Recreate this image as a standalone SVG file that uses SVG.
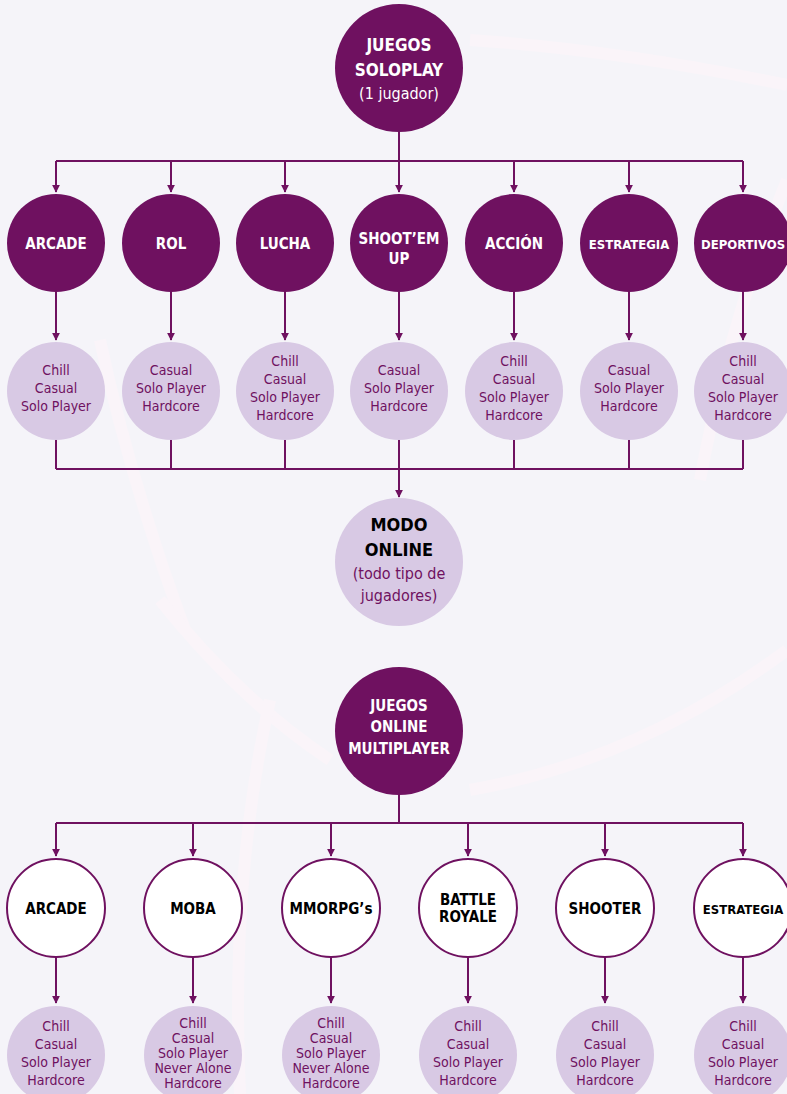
<svg xmlns="http://www.w3.org/2000/svg" width="787" height="1094" viewBox="0 0 787 1094">
<defs>
<style>
.bg{fill:#f5f4f9}
.deco{fill:none;stroke:#faf4f9;stroke-width:12}
.dark{fill:#6f1160}
.light{fill:#d8c9e4}
.outline{fill:#ffffff;stroke:#6f1160;stroke-width:2}
.ln{fill:none;stroke:#6f1160;stroke-width:2}
.arr{fill:none;stroke:#6f1160;stroke-width:2;marker-end:url(#ah)}
text{font-family:"DejaVu Sans Condensed","DejaVu Sans","Liberation Sans",sans-serif;font-stretch:condensed;text-anchor:middle}
.wb{fill:#ffffff;font-weight:bold;font-size:15px}
.ws{fill:#ffffff;font-weight:bold;font-size:13px}
.wt{fill:#ffffff;font-weight:bold;font-size:17px}
.wr{fill:#ffffff;font-size:16px}
.lt{fill:#6f1160;font-size:14px}
.bk{fill:#000000;font-weight:bold;font-size:15px}
.bks{fill:#000000;font-weight:bold;font-size:13px}
.bkl{fill:#000000;font-weight:bold;font-size:18px}
.pr{fill:#6f1160;font-size:16px}
</style>
<marker id="ah" viewBox="0 0 10 10" refX="9" refY="5" markerWidth="8" markerHeight="8" markerUnits="userSpaceOnUse" orient="auto">
<path d="M0,0 L10,5 L0,10 z" fill="#6f1160"/>
</marker>
</defs>
<rect class="bg" x="0" y="0" width="787" height="1094"/>
<g id="background-decoration">
<path class="deco" d="M470,40 Q620,50 787,85"/>
<path class="deco" d="M100,340 Q130,480 185,630"/>
<path class="deco" d="M160,600 Q240,700 330,760"/>
<path class="deco" d="M787,650 Q640,760 470,790"/>
<path class="deco" d="M270,700 Q230,880 240,1094"/>
<path class="deco" d="M787,180 Q730,320 700,480"/>
</g>
<g id="connectors">
<path class="ln" d="M399,132 V161 M56,161 H743"/>
<path class="arr" d="M56,161 V192"/>
<path class="arr" d="M171,161 V192"/>
<path class="arr" d="M285,161 V192"/>
<path class="arr" d="M399,161 V192"/>
<path class="arr" d="M514,161 V192"/>
<path class="arr" d="M629,161 V192"/>
<path class="arr" d="M743,161 V192"/>
<path class="arr" d="M56,292 V340"/>
<path class="arr" d="M171,292 V340"/>
<path class="arr" d="M285,292 V340"/>
<path class="arr" d="M399,292 V340"/>
<path class="arr" d="M514,292 V340"/>
<path class="arr" d="M629,292 V340"/>
<path class="arr" d="M743,292 V340"/>
<path class="ln" d="M56,439 V469 M171,439 V469 M285,439 V469 M399,439 V469 M514,439 V469 M629,439 V469 M743,439 V469 M56,469 H743"/>
<path class="arr" d="M399,469 V497"/>
<path class="ln" d="M399,795 V823 M56,823 H743"/>
<path class="arr" d="M56,823 V856"/>
<path class="arr" d="M193,823 V856"/>
<path class="arr" d="M331,823 V856"/>
<path class="arr" d="M468,823 V856"/>
<path class="arr" d="M605,823 V856"/>
<path class="arr" d="M743,823 V856"/>
<path class="arr" d="M56,957 V1003"/>
<path class="arr" d="M193,957 V1003"/>
<path class="arr" d="M331,957 V1003"/>
<path class="arr" d="M468,957 V1003"/>
<path class="arr" d="M605,957 V1003"/>
<path class="arr" d="M743,957 V1003"/>
</g>
<g id="juegos-soloplay">
<circle class="dark" cx="399" cy="68" r="64"/>
<text class="wt" x="399" y="51">JUEGOS</text>
<text class="wt" x="399" y="76">SOLOPLAY</text>
<text class="wr" x="399" y="99">(1 jugador)</text>
</g>
<g id="s-arcade"><circle class="dark" cx="56" cy="243" r="49"/><text class="wb" x="56" y="249">ARCADE</text></g>
<g id="s-rol"><circle class="dark" cx="171" cy="243" r="49"/><text class="wb" x="171" y="249">ROL</text></g>
<g id="s-lucha"><circle class="dark" cx="285" cy="243" r="49"/><text class="wb" x="285" y="249">LUCHA</text></g>
<g id="s-shootemup"><circle class="dark" cx="399" cy="243" r="49"/><text class="wb" x="399" y="244">SHOOT’EM</text><text class="wb" x="399" y="264">UP</text></g>
<g id="s-accion"><circle class="dark" cx="514" cy="243" r="49"/><text class="wb" x="514" y="249">ACCIÓN</text></g>
<g id="s-estrategia"><circle class="dark" cx="629" cy="243" r="49"/><text class="ws" x="629" y="249">ESTRATEGIA</text></g>
<g id="s-deportivos"><circle class="dark" cx="743" cy="243" r="49"/><text class="ws" x="743" y="249">DEPORTIVOS</text></g>
<g id="s-arcade-players"><circle class="light" cx="56" cy="391" r="49"/>
<text class="lt" x="56" y="375">Chill</text><text class="lt" x="56" y="393">Casual</text><text class="lt" x="56" y="411">Solo Player</text></g>
<g id="s-rol-players"><circle class="light" cx="171" cy="391" r="49"/>
<text class="lt" x="171" y="375">Casual</text><text class="lt" x="171" y="393">Solo Player</text><text class="lt" x="171" y="411">Hardcore</text></g>
<g id="s-lucha-players"><circle class="light" cx="285" cy="391" r="49"/>
<text class="lt" x="285" y="366">Chill</text><text class="lt" x="285" y="384">Casual</text><text class="lt" x="285" y="402">Solo Player</text><text class="lt" x="285" y="420">Hardcore</text></g>
<g id="s-shootemup-players"><circle class="light" cx="399" cy="391" r="49"/>
<text class="lt" x="399" y="375">Casual</text><text class="lt" x="399" y="393">Solo Player</text><text class="lt" x="399" y="411">Hardcore</text></g>
<g id="s-accion-players"><circle class="light" cx="514" cy="391" r="49"/>
<text class="lt" x="514" y="366">Chill</text><text class="lt" x="514" y="384">Casual</text><text class="lt" x="514" y="402">Solo Player</text><text class="lt" x="514" y="420">Hardcore</text></g>
<g id="s-estrategia-players"><circle class="light" cx="629" cy="391" r="49"/>
<text class="lt" x="629" y="375">Casual</text><text class="lt" x="629" y="393">Solo Player</text><text class="lt" x="629" y="411">Hardcore</text></g>
<g id="s-deportivos-players"><circle class="light" cx="743" cy="391" r="49"/>
<text class="lt" x="743" y="366">Chill</text><text class="lt" x="743" y="384">Casual</text><text class="lt" x="743" y="402">Solo Player</text><text class="lt" x="743" y="420">Hardcore</text></g>
<g id="modo-online">
<circle class="light" cx="399" cy="562" r="64"/>
<text class="bkl" x="399" y="531">MODO</text>
<text class="bkl" x="399" y="556">ONLINE</text>
<text class="pr" x="399" y="579">(todo tipo de</text>
<text class="pr" x="399" y="601">jugadores)</text>
</g>
<g id="juegos-online-multiplayer">
<circle class="dark" cx="399" cy="731" r="64"/>
<text class="wb" x="399" y="711">JUEGOS</text>
<text class="wb" x="399" y="732">ONLINE</text>
<text class="wb" x="399" y="754">MULTIPLAYER</text>
</g>
<g id="m-arcade"><circle class="outline" cx="56" cy="908" r="49"/><text class="bk" x="56" y="914">ARCADE</text></g>
<g id="m-moba"><circle class="outline" cx="193" cy="908" r="49"/><text class="bk" x="193" y="914">MOBA</text></g>
<g id="m-mmorpgs"><circle class="outline" cx="331" cy="908" r="49"/><text class="bk" x="331" y="914">MMORPG’s</text></g>
<g id="m-battleroyale"><circle class="outline" cx="468" cy="908" r="49"/><text class="bk" x="468" y="905">BATTLE</text><text class="bk" x="468" y="922">ROYALE</text></g>
<g id="m-shooter"><circle class="outline" cx="605" cy="908" r="49"/><text class="bk" x="605" y="914">SHOOTER</text></g>
<g id="m-estrategia"><circle class="outline" cx="743" cy="908" r="49"/><text class="bks" x="743" y="914">ESTRATEGIA</text></g>
<g id="m-arcade-players"><circle class="light" cx="56" cy="1055" r="49"/>
<text class="lt" x="56" y="1031">Chill</text><text class="lt" x="56" y="1049">Casual</text><text class="lt" x="56" y="1067">Solo Player</text><text class="lt" x="56" y="1085">Hardcore</text></g>
<g id="m-moba-players"><circle class="light" cx="193" cy="1055" r="49"/>
<text class="lt" x="193" y="1028">Chill</text><text class="lt" x="193" y="1043">Casual</text><text class="lt" x="193" y="1058">Solo Player</text><text class="lt" x="193" y="1073">Never Alone</text><text class="lt" x="193" y="1088">Hardcore</text></g>
<g id="m-mmorpgs-players"><circle class="light" cx="331" cy="1055" r="49"/>
<text class="lt" x="331" y="1028">Chill</text><text class="lt" x="331" y="1043">Casual</text><text class="lt" x="331" y="1058">Solo Player</text><text class="lt" x="331" y="1073">Never Alone</text><text class="lt" x="331" y="1088">Hardcore</text></g>
<g id="m-battleroyale-players"><circle class="light" cx="468" cy="1055" r="49"/>
<text class="lt" x="468" y="1031">Chill</text><text class="lt" x="468" y="1049">Casual</text><text class="lt" x="468" y="1067">Solo Player</text><text class="lt" x="468" y="1085">Hardcore</text></g>
<g id="m-shooter-players"><circle class="light" cx="605" cy="1055" r="49"/>
<text class="lt" x="605" y="1031">Chill</text><text class="lt" x="605" y="1049">Casual</text><text class="lt" x="605" y="1067">Solo Player</text><text class="lt" x="605" y="1085">Hardcore</text></g>
<g id="m-estrategia-players"><circle class="light" cx="743" cy="1055" r="49"/>
<text class="lt" x="743" y="1031">Chill</text><text class="lt" x="743" y="1049">Casual</text><text class="lt" x="743" y="1067">Solo Player</text><text class="lt" x="743" y="1085">Hardcore</text></g>
</svg>
